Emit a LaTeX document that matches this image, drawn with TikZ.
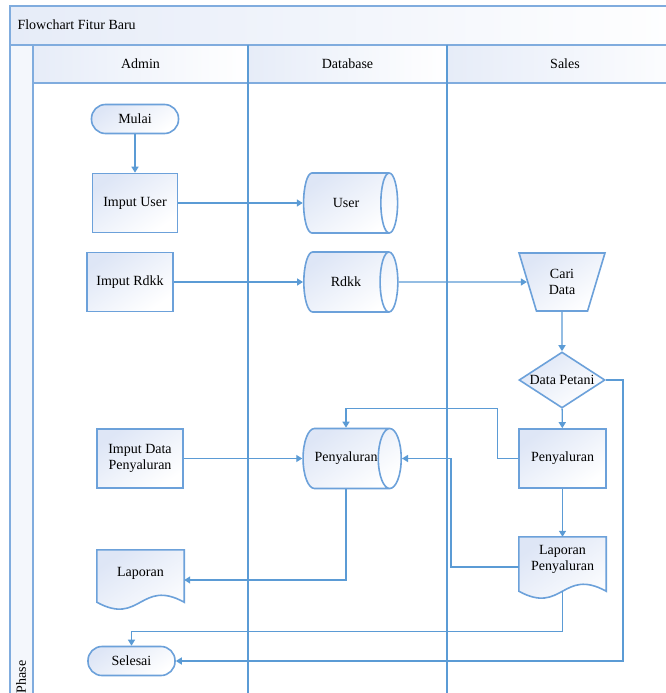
\documentclass[tikz,border=0pt]{standalone}
\usepackage{fontspec}
\setmainfont{Liberation Serif}
\usetikzlibrary{shapes.geometric,arrows.meta,calc}
\pgfdeclarelayer{background}
\pgfsetlayers{background,main}
\definecolor{flowline}{RGB}{91,155,213}
\definecolor{nodeedge}{RGB}{108,161,218}
\definecolor{nodefill}{RGB}{222,230,246}
\definecolor{framecol}{RGB}{128,172,222}
\definecolor{bandfill}{RGB}{230,236,248}
\definecolor{phasefill}{RGB}{244,247,252}
% document symbol: rectangle with a wavy lower edge, #2 = depth of the wave base below the node
\newcommand\docoutline[2]{%
  \begin{pgfonlayer}{background}
    \path[draw=nodeedge, line width=1.6pt, nodeshade]
      (#1.north west) -- (#1.north east) -- ($(#1.south east)+(0,#2)$)
      .. controls +(-43.5,-24) and +(43.5,24) .. ($(#1.south west)+(0,#2)$) -- cycle;
  \end{pgfonlayer}}
\begin{document}
\begin{tikzpicture}[x=1pt,y=-1pt,
  every node/.style={font=\fontsize{14}{16}\selectfont, text=black},
  nodeshade/.style={top color=nodefill, bottom color=white, shading angle=35},
  process/.style={rectangle, draw=nodeedge, line width=1.6pt, nodeshade,
    minimum width=#1, minimum height=59, inner sep=0pt, align=center},
  terminal/.style={rectangle, draw=nodeedge, line width=1.6pt, nodeshade,
    rounded corners=14pt, minimum width=87, minimum height=29, inner sep=0pt},
  storage/.style={cylinder, aspect=1.8, draw=nodeedge, line width=1.6pt, nodeshade,
    minimum height=94, minimum width=60, inner sep=0pt},
  manual/.style={trapezium, trapezium stretches=true, shape border rotate=180,
    trapezium left angle=70.5, trapezium right angle=70.5, draw=nodeedge,
    line width=1.6pt, nodeshade, minimum width=86, minimum height=58,
    inner sep=0pt, align=center},
  decision/.style={diamond, draw=nodeedge, line width=1.6pt, nodeshade,
    minimum width=86, minimum height=56, inner sep=0pt},
  docnode/.style={rectangle, minimum width=87, minimum height=#1, inner sep=0pt, align=center},
  conn/.style={draw=flowline, line width=1.4pt, -{Triangle[length=6pt,width=7pt]}},
  frame/.style={draw=framecol, line width=2pt},
  lane/.style={draw=flowline, line width=1.8pt}
]
\useasboundingbox (0,0) rectangle (666,693);

% swimlane frame, kept beneath everything else
\begin{pgfonlayer}{background}
\fill[white] (0,0) rectangle (666,693);
\begin{scope}
\clip (0,0) rectangle (666,693);
\fill[left color=bandfill, right color=white] (10,6) rectangle (700,45);
\fill[phasefill] (10,45) rectangle (33,720);
\fill[left color=bandfill, right color=white] (33,45) rectangle (248,83);
\fill[left color=bandfill, right color=white] (248,45) rectangle (447,83);
\fill[left color=bandfill, right color=white] (447,45) rectangle (700,83);
\draw[frame] (10,720) -- (10,6) -- (700,6);
\draw[frame] (10,45) -- (700,45);
\draw[frame] (33,83) -- (700,83);
\draw[frame] (33,45) -- (33,720);
\draw[lane] (248,45) -- (248,720);
\draw[lane] (447,45) -- (447,720);
\end{scope}
\end{pgfonlayer}

\node[anchor=west] (title) at (14,25) {Flowchart Fitur Baru};
\node (hadmin) at (140.5,64) {Admin};
\node (hdb) at (347.5,64) {Database};
\node (hsales) at (565,64) {Sales};
\node[rotate=90] (phase) at (21,677) {Phase};

% Admin lane
\node[terminal] (mulai) at (135,119) {Mulai};
\node[process=85] (inuser) at (135,203) {Imput User};
\node[process=86] (inrdkk) at (130,282) {Imput Rdkk};
\node[process=86] (inpen) at (140,458.5) {Imput Data\\Penyaluran};
\node[docnode=46] (lap) at (140.5,573) {Laporan};
\docoutline{lap}{6}
\node[terminal] (sel) at (131.5,661) {Selesai};

% Database lane
\node[storage] (user) at (346,203) {User};
\node[storage] (rdkk) at (346,282) {Rdkk};
\node[storage] (pcyl) at (346,458.5) {Penyaluran};

% Sales lane
\node[manual] (cari) at (562,282) {Cari\\Data};
\node[decision] (dp) at (562,380) {\makebox[0pt]{Data Petani}};
\node[process=87] (pen) at (562.5,458.5) {Penyaluran};
\node[docnode=44] (lappen) at (562.5,559) {Laporan\\Penyaluran};
\docoutline{lappen}{10}

% connectors
\draw[conn] (mulai) -- (inuser);
\draw[conn] (inuser) -- (user);
\draw[conn] (inrdkk) -- (rdkk);
\draw[conn] (rdkk) -- (cari);
\draw[conn] (cari) -- (dp);
\draw[conn] (dp) -- (pen);
\draw[conn] (pen) -- (lappen);
\draw[conn] (inpen) -- (pcyl);
\draw[conn] (pen.west) -- ++(-21,0) |- ($(pcyl.north)+(0,-19)$) -- (pcyl.north);
\draw[conn] ([yshift=-8pt]lappen.west) -- ++(-68,0) |- (pcyl.east);
\draw[conn] (pcyl.south) |- ([yshift=-7pt]lap.east);
\draw[conn] ([yshift=-10pt]lappen.south) -- ++(0,40) -| (sel.north);
\draw[conn] (dp.east) -- ++(17,0) |- (sel.east);
\end{tikzpicture}
\end{document}
